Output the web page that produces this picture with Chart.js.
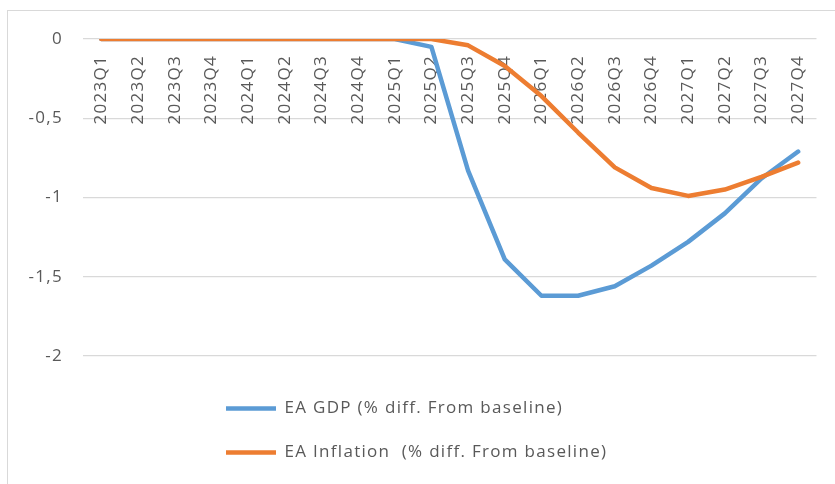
<!DOCTYPE html>
<html>
<head>
<meta charset="utf-8">
<script src="https://cdn.jsdelivr.net/npm/chart.js@4.4.1/dist/chart.umd.min.js"></script>
<style>
  html, body { margin: 0; padding: 0; background: #ffffff; }
  #wrap { position: relative; width: 835px; height: 484px; overflow: hidden; }
  #frame { position: absolute; left: 7px; top: 10px; right: -5px; bottom: -5px;
           border-left: 1.5px solid #d9d9d9; border-top: 1.5px solid #d9d9d9; }
  #c { position: absolute; left: 0; top: 0; }
</style>
</head>
<body>
<div id="wrap">
  <div id="frame"></div>
  <canvas id="c" width="835" height="484"></canvas>
</div>
<script>
// Quarters on the category axis
const quarters = [
  '2023Q1', '2023Q2', '2023Q3', '2023Q4',
  '2024Q1', '2024Q2', '2024Q3', '2024Q4',
  '2025Q1', '2025Q2', '2025Q3', '2025Q4',
  '2026Q1', '2026Q2', '2026Q3', '2026Q4',
  '2027Q1', '2027Q2', '2027Q3', '2027Q4'
];

// Euro area GDP, % difference from baseline
const gdpDiff = [
  0, 0, 0, 0,
  0, 0, 0, 0,
  0, -0.05, -0.83, -1.39,
  -1.62, -1.62, -1.56, -1.43,
  -1.28, -1.10, -0.88, -0.71
];

// Euro area inflation, % difference from baseline
const inflationDiff = [
  0, 0, 0, 0,
  0, 0, 0, 0,
  0, 0, -0.04, -0.17,
  -0.36, -0.59, -0.81, -0.94,
  -0.99, -0.95, -0.87, -0.78
];

const seriesNames = [
  'EA GDP (% diff. From baseline)',
  'EA Inflation  (% diff. From baseline)'
];

// Value-axis ticks, written with a decimal comma
const yTicks = [0, -0.5, -1, -1.5, -2];
const yTickLabels = ['0', '-0,5', '-1', '-1,5', '-2'];

const TEXT = '#595959';
const GRID = '#d9d9d9';
const FONT = "'Open Sans', 'DejaVu Sans', sans-serif";

// Places the legend under the plot as a left-aligned column of two rows
const legendPlacement = {
  id: 'legendPlacement',
  afterLayout(chart) {
    const lg = chart.legend;
    if (!lg) return;
    const pad = chart.options.plugins.legend.labels.padding;
    lg.left = 226 - pad;
    lg.right = 720;
    lg.width = lg.right - lg.left;
    lg.top = 373;
    lg.bottom = chart.height;
    lg.height = lg.bottom - lg.top;
  }
};

// Slightly wider letter spacing for the chart text
const spacedText = {
  id: 'spacedText',
  beforeDraw(chart) { chart.ctx.letterSpacing = '1.3px'; },
  afterDraw(chart) { chart.ctx.letterSpacing = '0px'; }
};

new Chart(document.getElementById('c'), {
  type: 'line',
  data: {
    labels: quarters,
    datasets: [
      {
        label: seriesNames[0],
        data: gdpDiff,
        borderColor: '#5b9bd5',
        backgroundColor: '#5b9bd5',
        borderWidth: 4.5,
        pointRadius: 0,
        tension: 0,
        borderJoinStyle: 'round',
        borderCapStyle: 'round',
        order: 1
      },
      {
        label: seriesNames[1],
        data: inflationDiff,
        borderColor: '#ed7d31',
        backgroundColor: '#ed7d31',
        borderWidth: 4.5,
        pointRadius: 0,
        tension: 0,
        borderJoinStyle: 'round',
        borderCapStyle: 'round',
        order: 0
      }
    ]
  },
  options: {
    responsive: false,
    animation: false,
    devicePixelRatio: 1,
    layout: { padding: { top: 39, left: 0, right: 17, bottom: 74 } },
    plugins: {
      tooltip: { enabled: false },
      title: { display: false },
      legend: {
        display: true,
        position: 'bottom',
        align: 'start',
        fullSize: false,
        labels: {
          color: TEXT,
          font: { family: FONT, size: 17 },
          usePointStyle: true,
          pointStyle: 'line',
          pointStyleWidth: 50,
          padding: 27,
          sort: (a, b) => a.datasetIndex - b.datasetIndex
        }
      }
    },
    scales: {
      x: {
        type: 'category',
        position: { y: 0 },
        offset: true,
        grid: { display: false, drawTicks: false },
        border: { display: false },
        ticks: {
          color: TEXT,
          font: { family: FONT, size: 17 },
          minRotation: 90,
          maxRotation: 90,
          autoSkip: false,
          padding: 16
        }
      },
      y: {
        min: -2,
        max: 0,
        afterFit(scale) { scale.width = 83; },
        afterBuildTicks(scale) { scale.ticks = yTicks.map(v => ({ value: v })); },
        grid: { color: GRID, lineWidth: 1.2, drawTicks: false },
        border: { display: false },
        ticks: {
          color: TEXT,
          font: { family: FONT, size: 17 },
          padding: 20,
          callback: (v) => {
            const i = yTicks.indexOf(v);
            return i >= 0 ? yTickLabels[i] : '';
          }
        }
      }
    }
  },
  plugins: [legendPlacement, spacedText]
});
</script>
</body>
</html>
